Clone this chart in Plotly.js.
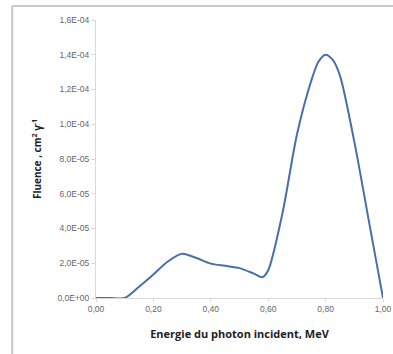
<!DOCTYPE html>
<html>
<head>
<meta charset="utf-8">
<script src="https://cdn.plot.ly/plotly-3.0.1.min.js"></script>
<style>
html,body{margin:0;padding:0;background:#fff;}
#chart{width:393px;height:354px;}
</style>
</head>
<body>
<div id="chart"></div>
<script>
const energy = [0, 0.05, 0.1, 0.15, 0.2, 0.25, 0.3, 0.35, 0.4, 0.45, 0.5, 0.55, 0.58, 0.6, 0.65, 0.7, 0.75, 0.775, 0.8, 0.825, 0.85, 0.9, 0.95, 1.0];
const fluence = [0, 0, 0, 0.65e-5, 1.35e-5, 2.1e-5, 2.55e-5, 2.3e-5, 1.98e-5, 1.85e-5, 1.72e-5, 1.4e-5, 1.2e-5, 1.6e-5, 4.9e-5, 9.4e-5, 1.25e-4, 1.36e-4, 1.40e-4, 1.37e-4, 1.28e-4, 9.0e-5, 4.5e-5, 0];
const xTickVals = [0, 0.2, 0.4, 0.6, 0.8, 1.0];
const xTickText = ["0,00", "0,20", "0,40", "0,60", "0,80", "1,00"];
const yTickVals = [0, 2e-5, 4e-5, 6e-5, 8e-5, 1e-4, 1.2e-4, 1.4e-4, 1.6e-4];
const yTickText = ["0,0E+00", "2,0E-05", "4,0E-05", "6,0E-05", "8,0E-05", "1,0E-04", "1,2E-04", "1,4E-04", "1,6E-04"];
const xTitle = "Energie du photon incident, MeV";
const yTitle = "Fluence , cm<sup>2</sup> γ<sup>-1</sup>";

const trace = {
  x: energy, y: fluence, type: 'scatter', mode: 'lines',
  line: {color: '#4a6fa8', width: 2, shape: 'spline', smoothing: 0.8},
  hoverinfo: 'none'
};
const tickFont = {family: 'Liberation Sans, Arial, sans-serif', size: 8.5, color: '#666'};
const layout = {
  width: 393, height: 354,
  margin: {l: 96, r: 10, t: 20, b: 56},
  paper_bgcolor: '#fff', plot_bgcolor: '#fff',
  showlegend: false,
  xaxis: {
    range: [0, 1], tickvals: xTickVals, ticktext: xTickText,
    showgrid: false, zeroline: false, showline: true, linecolor: '#d9d9d9', linewidth: 1,
    ticks: 'outside', ticklen: 3, tickcolor: '#d9d9d9',
    tickfont: tickFont, automargin: false,
    title: {text: xTitle, font: {family: 'Open Sans, Arial, sans-serif', size: 11, color: '#222', weight: 'bold'}, standoff: 17}
  },
  yaxis: {
    range: [0, 1.6e-4], tickvals: yTickVals, ticktext: yTickText,
    showgrid: false, zeroline: false, showline: true, linecolor: '#d9d9d9', linewidth: 1,
    ticks: 'outside', ticklen: 4, tickcolor: '#d9d9d9',
    tickfont: tickFont, automargin: false,
    title: {text: yTitle, font: {family: 'Open Sans, Arial, sans-serif', size: 10, color: '#222', weight: 'bold'}, standoff: 13}
  },
  shapes: [
    {type: 'line', xref: 'paper', yref: 'paper', x0: -0.292, x1: 1.04, y0: 1.05, y1: 1.05, line: {color: '#c8c8c8', width: 2}},
    {type: 'line', xref: 'paper', yref: 'paper', x0: -0.292, x1: -0.292, y0: 1.05, y1: -0.21, line: {color: '#c8c8c8', width: 2}}
  ]
};
Plotly.newPlot('chart', [trace], layout, {staticPlot: true, displayModeBar: false});
</script>
</body>
</html>
